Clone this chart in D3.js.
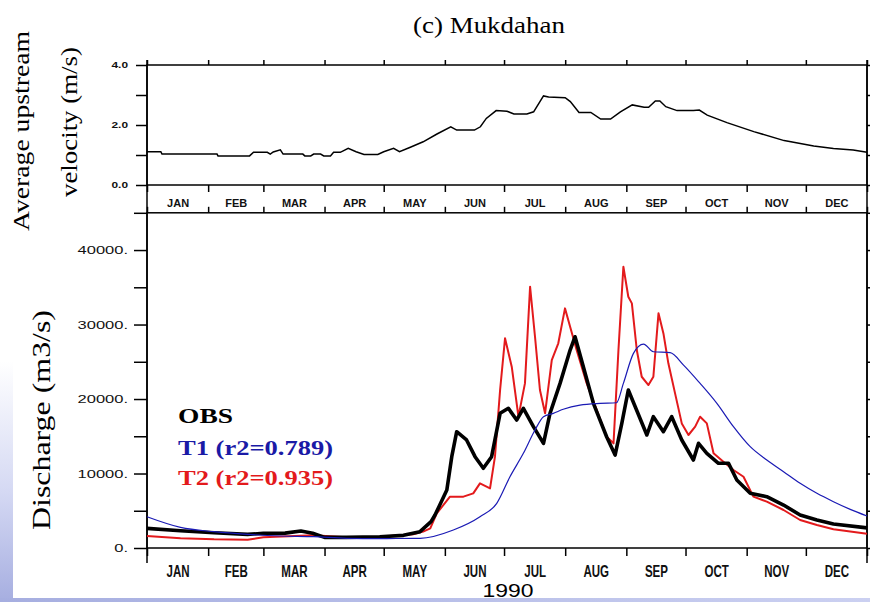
<!DOCTYPE html>
<html>
<head>
<meta charset="utf-8">
<script src="https://cdn.jsdelivr.net/npm/d3@7"></script>
<style>
body { margin: 0; background: #fff; }
svg { display: block; }
</style>
</head>
<body>
<div id="vis"></div>
<script>
const width = 870;
const height = 602;

const months = ["JAN", "FEB", "MAR", "APR", "MAY", "JUN", "JUL", "AUG", "SEP", "OCT", "NOV", "DEC"];

// day of year (0 = 1 Jan 1990) and values
const velDay = [0, 7, 7.6, 35.5, 36, 52, 54, 61, 62.5, 64, 67.6, 69, 79, 80, 83, 84.5, 88, 89.6, 93, 94.6, 98, 102, 106, 110, 117, 120, 125, 128, 133.5, 140, 147, 154, 157, 166, 169, 172, 177, 182.5, 186, 192.6, 196, 201, 203.6, 212, 214.6, 219, 225, 230, 235, 240, 246, 252, 254.3, 257.7, 260, 263, 268.7, 277, 280, 284, 294, 307.6, 323, 338, 348, 358, 365];
const velValue = [1.11, 1.11, 1.03, 1.03, 0.97, 0.97, 1.09, 1.09, 1.03, 1.10, 1.17, 1.03, 1.03, 0.97, 0.97, 1.03, 1.03, 0.97, 0.97, 1.09, 1.09, 1.22, 1.11, 1.02, 1.02, 1.11, 1.22, 1.11, 1.26, 1.44, 1.70, 1.94, 1.83, 1.83, 1.94, 2.22, 2.48, 2.46, 2.37, 2.37, 2.44, 2.97, 2.93, 2.91, 2.78, 2.42, 2.42, 2.20, 2.20, 2.44, 2.67, 2.59, 2.59, 2.80, 2.80, 2.61, 2.48, 2.48, 2.50, 2.33, 2.08, 1.78, 1.48, 1.30, 1.22, 1.17, 1.09];

const obsDay = [0, 17, 34, 51, 59, 70, 78, 84, 90, 101, 118, 130, 138.4, 144, 146, 148, 152, 154.5, 157, 162, 166.3, 170.5, 174.7, 179, 183.2, 187.4, 190.8, 195.9, 201, 204.3, 209.4, 214.5, 217, 221.2, 226.3, 233, 237.3, 240.7, 244, 247.5, 253.4, 256.7, 261.8, 266, 271.1, 277, 279.6, 283.8, 289.7, 294.8, 299, 305.8, 314.2, 322.7, 331.1, 339.6, 348, 365];
const obsValue = [2640, 2320, 2050, 1830, 1970, 2000, 2280, 1970, 1430, 1430, 1520, 1700, 2190, 3530, 4430, 5540, 7790, 12260, 15610, 14500, 12260, 10700, 12260, 18080, 18750, 17180, 18750, 16290, 14050, 18080, 22100, 26580, 28360, 24340, 19420, 14940, 12480, 16730, 21210, 18970, 15170, 17630, 15610, 17630, 14500, 11810, 14050, 12710, 11370, 11370, 9130, 7340, 6890, 5770, 4430, 3760, 3220, 2700];

const t1Day = [0, 17, 34, 51, 68, 84.5, 101, 118, 135, 138.4, 155.3, 168.8, 177.3, 184, 190.8, 196.7, 201, 206, 211, 219.5, 229.7, 238, 241.5, 246.6, 251.7, 256.7, 265.2, 272, 280.4, 288.9, 297.3, 305.8, 314.2, 322.7, 331.1, 339.6, 348, 356.5, 365];
const t1Value = [4200, 2770, 2190, 1830, 1610, 1520, 1300, 1250, 1300, 1300, 2420, 4200, 6000, 9570, 12710, 15840, 17630, 18080, 18620, 19190, 19420, 19500, 22100, 26130, 27380, 26350, 26220, 24560, 22100, 19420, 16290, 13600, 11810, 10240, 8680, 7340, 6220, 5190, 4300];

const t2Day = [0, 17, 34, 51, 59, 84.5, 101, 118, 135, 140, 143.6, 146.9, 153.6, 160.4, 165.4, 168.8, 173.9, 176.4, 179, 181.5, 184.9, 188.3, 191.6, 194.2, 196.7, 199.2, 201.8, 205.2, 208.5, 211.9, 214.5, 217.8, 222.9, 228, 233, 236.5, 239, 241.5, 244, 245.8, 248.3, 250.8, 254.2, 256.7, 259.3, 261.8, 264.3, 267.7, 271.1, 274.5, 277.9, 280.4, 283.8, 287.2, 292.2, 297.3, 302.4, 307.4, 314.2, 322.7, 331.1, 339.6, 348, 365];
const t2Value = [1610, 1300, 1160, 1120, 1430, 1700, 1430, 1520, 1830, 2200, 2640, 4650, 6890, 6890, 7340, 8680, 8010, 12260, 21210, 28150, 24340, 17630, 22100, 35080, 28360, 21210, 18080, 25230, 27480, 32170, 29700, 26580, 22100, 18520, 14940, 14050, 26580, 37760, 33730, 32840, 26580, 22990, 21880, 22990, 31500, 28810, 24790, 20760, 16730, 15170, 16290, 17630, 16730, 12710, 11580, 10470, 9570, 6890, 6220, 5100, 3760, 3090, 2510, 1900];

const legendLabels = ["OBS", "T1 (r2=0.789)", "T2 (r2=0.935)"];
const legendColors = ["#000000", "#1a1aa6", "#e31a1c"];

const start = Date.UTC(1990, 0, 1);
const toDate = d => new Date(start + d * 864e5);
const monthStarts = d3.utcMonth.range(new Date(start), new Date(Date.UTC(1991, 0, 2)));
const monthMids = monthStarts.slice(0, 12).map((m, i) => new Date((+m + +monthStarts[i + 1]) / 2));

const left = 147, right = 867;
const xScale = d3.scaleUtc().domain([new Date(start), new Date(Date.UTC(1991, 0, 1))]).range([left, right]);
const yVel = d3.scaleLinear().domain([0, 4]).range([185, 65]);
const yQ = d3.scaleLinear().domain([0, 45000]).range([548, 212.8]);

const svg = d3.select("#vis").append("svg")
  .attr("width", width)
  .attr("height", height);

// slide background
const defs = svg.append("defs");
const gv = defs.append("linearGradient").attr("id", "gv").attr("x1", 0).attr("y1", 0).attr("x2", 0).attr("y2", 1);
gv.append("stop").attr("offset", "0.6").attr("stop-color", "#ffffff");
gv.append("stop").attr("offset", "0.82").attr("stop-color", "#d4d8f3");
gv.append("stop").attr("offset", "1").attr("stop-color", "#a6aee0");
const gh = defs.append("linearGradient").attr("id", "gh");
gh.append("stop").attr("offset", "0").attr("stop-color", "#a6aee0");
gh.append("stop").attr("offset", "1").attr("stop-color", "#cbd0f1");
svg.append("rect").attr("x", 0).attr("y", 0).attr("width", 13).attr("height", height).attr("fill", "url(#gv)");
svg.append("rect").attr("x", 0).attr("y", 598).attr("width", width).attr("height", 4).attr("fill", "url(#gh)");

const axisFont = "'Liberation Sans', Arial, sans-serif";
const serif = "'Liberation Serif', 'Times New Roman', serif";

function styleAxis(g) {
  g.select(".domain").remove();
  g.selectAll("line").attr("stroke", "#000").attr("stroke-width", 1.5);
}

// ---- top panel: velocity
svg.append("g").attr("transform", "translate(0,65)")
  .call(d3.axisTop(xScale).tickValues(monthStarts).tickSize(5).tickFormat(""))
  .call(styleAxis);
svg.append("g").attr("transform", "translate(0,185)")
  .call(d3.axisBottom(xScale).tickValues(monthStarts).tickSize(7).tickFormat(""))
  .call(styleAxis);
svg.append("g").attr("transform", "translate(0,185)")
  .call(d3.axisBottom(xScale).tickValues(monthMids).tickSize(0).tickFormat((d, i) => months[i]))
  .call(g => g.select(".domain").remove())
  .call(g => g.selectAll("text").attr("y", 22).attr("dy", 0)
    .attr("font-family", axisFont).attr("font-weight", "bold").attr("font-size", 11).attr("fill", "#111"));
svg.append("g").attr("transform", `translate(${left},0)`)
  .call(d3.axisLeft(yVel).tickValues([0, 1, 2, 3, 4]).tickSize(11).tickFormat(d => d % 2 === 0 ? d3.format(".1f")(d) : ""))
  .call(styleAxis)
  .call(g => g.selectAll("text").attr("x", 0).attr("transform", "translate(-19,0) scale(1.4,1)")
    .attr("font-family", axisFont).attr("font-weight", "bold").attr("font-size", 8.5).attr("fill", "#111"));
svg.append("g").attr("transform", `translate(${right},0)`)
  .call(d3.axisRight(yVel).tickValues([0, 1, 2, 3, 4]).tickSize(6).tickFormat(""))
  .call(styleAxis);
svg.append("rect").attr("x", left).attr("y", 65).attr("width", right - left).attr("height", 120)
  .attr("fill", "none").attr("stroke", "#000").attr("stroke-width", 1.5);

svg.append("path")
  .datum(velDay.map((d, i) => [toDate(d), velValue[i]]))
  .attr("fill", "none").attr("stroke", "#000").attr("stroke-width", 1.5)
  .attr("d", d3.line().x(d => xScale(d[0])).y(d => yVel(d[1])));

// ---- bottom panel: discharge
svg.append("g").attr("transform", `translate(0,${yQ(45000)})`)
  .call(d3.axisTop(xScale).tickValues(monthStarts).tickSize(6).tickFormat(""))
  .call(styleAxis);
svg.append("g").attr("transform", "translate(0,548)")
  .call(d3.axisBottom(xScale).tickValues(monthStarts).tickSize(8).tickFormat(""))
  .call(styleAxis);
svg.append("g").attr("transform", "translate(0,548)")
  .call(d3.axisBottom(xScale).tickValues(monthMids).tickSize(0).tickFormat((d, i) => months[i]))
  .call(g => g.select(".domain").remove())
  .call(g => g.selectAll("text").attr("y", 0).attr("dy", 0).attr("transform", "translate(0,29) scale(0.7,1)")
    .attr("font-family", axisFont).attr("font-weight", "bold").attr("font-size", 16.5).attr("fill", "#111"));
svg.append("g").attr("transform", `translate(${left},0)`)
  .call(d3.axisLeft(yQ).tickValues(d3.range(0, 45001, 5000)).tickSize(13).tickFormat(d => d % 10000 === 0 ? d + "." : ""))
  .call(styleAxis)
  .call(g => g.selectAll("text").attr("x", 0).attr("transform", "translate(-19,0) scale(1.5,1)")
    .attr("font-family", axisFont).attr("font-size", 11).attr("fill", "#111"));
svg.append("g").attr("transform", `translate(${right},0)`)
  .call(d3.axisRight(yQ).tickValues(d3.range(0, 45001, 5000)).tickSize(6).tickFormat(""))
  .call(styleAxis);
svg.append("rect").attr("x", left).attr("y", yQ(45000)).attr("width", right - left).attr("height", 548 - yQ(45000))
  .attr("fill", "none").attr("stroke", "#000").attr("stroke-width", 1.5);

// side frame lines run through both panels
[left, right].forEach(x => {
  svg.append("line").attr("x1", x).attr("x2", x).attr("y1", 60).attr("y2", 563)
    .attr("stroke", "#000").attr("stroke-width", 1.5);
});

const qLine = d3.line().x(d => xScale(d[0])).y(d => yQ(d[1]));
const series = [
  { day: t2Day, value: t2Value, color: "#e31a1c", w: 2, curve: d3.curveLinear },
  { day: obsDay, value: obsValue, color: "#000000", w: 3.6, curve: d3.curveLinear },
  { day: t1Day, value: t1Value, color: "#1a1ab4", w: 1.2, curve: d3.curveMonotoneX }
];
series.forEach(s => {
  svg.append("path")
    .datum(s.day.map((d, i) => [toDate(d), s.value[i]]))
    .attr("fill", "none").attr("stroke", s.color).attr("stroke-width", s.w)
    .attr("stroke-linejoin", "round")
    .attr("d", qLine.curve(s.curve));
});

// legend
const legendY = [423, 455, 485];
const legendLen = [55, 155, 155];
svg.selectAll(".legend")
  .data(legendLabels)
  .enter()
  .append("text")
  .attr("x", 178)
  .attr("y", (d, i) => legendY[i])
  .attr("textLength", (d, i) => legendLen[i])
  .attr("lengthAdjust", "spacingAndGlyphs")
  .attr("font-family", serif)
  .attr("font-weight", "bold")
  .attr("font-size", 22)
  .attr("fill", (d, i) => legendColors[i])
  .text(d => d);

// titles
svg.append("text").attr("x", 413).attr("y", 33)
  .attr("textLength", 152).attr("lengthAdjust", "spacingAndGlyphs")
  .attr("font-family", serif).attr("font-size", 23)
  .text("(c) Mukdahan");

svg.append("text").attr("transform", "translate(29,131) rotate(-90)")
  .attr("text-anchor", "middle").attr("textLength", 200).attr("lengthAdjust", "spacingAndGlyphs")
  .attr("font-family", serif).attr("font-size", 23)
  .text("Average upstream");
svg.append("text").attr("transform", "translate(77,122) rotate(-90)")
  .attr("text-anchor", "middle").attr("textLength", 150).attr("lengthAdjust", "spacingAndGlyphs")
  .attr("font-family", serif).attr("font-size", 23)
  .text("velocity (m/s)");
svg.append("text").attr("transform", "translate(50,420) rotate(-90)")
  .attr("text-anchor", "middle").attr("textLength", 220).attr("lengthAdjust", "spacingAndGlyphs")
  .attr("font-family", serif).attr("font-size", 25)
  .text("Discharge (m3/s)");

svg.append("text").attr("x", 508).attr("y", 597)
  .attr("text-anchor", "middle").attr("textLength", 51).attr("lengthAdjust", "spacingAndGlyphs")
  .attr("font-family", axisFont).attr("font-size", 19)
  .text("1990");
</script>
</body>
</html>
